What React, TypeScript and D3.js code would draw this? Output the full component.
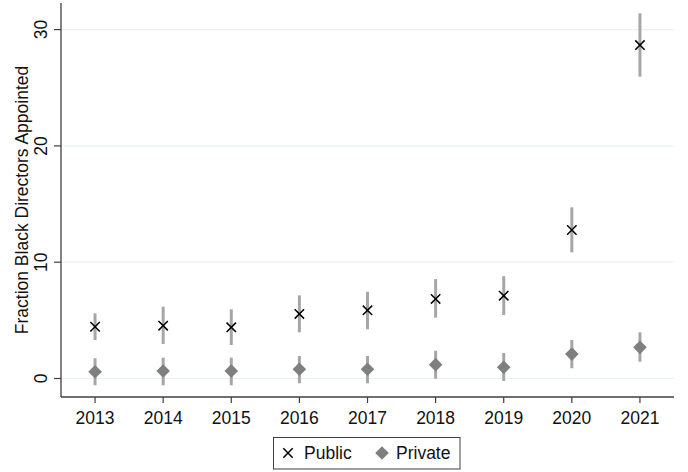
import React from "react";
import * as d3 from "d3";

// Survey years
const years = [2013, 2014, 2015, 2016, 2017, 2018, 2019, 2020, 2021];

// Public firms: point estimate and 95% CI bounds
const publicEst = [4.45, 4.54, 4.4, 5.55, 5.86, 6.84, 7.12, 12.77, 28.67];
const publicLo = [3.3, 2.97, 2.88, 3.97, 4.23, 5.23, 5.46, 10.85, 25.95];
const publicHi = [5.6, 6.17, 5.95, 7.15, 7.46, 8.55, 8.8, 14.72, 31.4];

// Private firms: point estimate and 95% CI bounds
const privateEst = [0.58, 0.64, 0.64, 0.79, 0.79, 1.19, 0.96, 2.1, 2.68];
const privateLo = [-0.58, -0.58, -0.58, -0.41, -0.41, -0.02, -0.21, 0.88, 1.44];
const privateHi = [1.74, 1.79, 1.79, 1.93, 1.93, 2.39, 2.19, 3.31, 3.97];

const yTicks = [0, 10, 20, 30];
const legendLabels = ["Public", "Private"];
const yTitle = "Fraction Black Directors Appointed";

const W = 688;
const H = 472;
const plot = { left: 61, right: 674, top: 3, bottom: 397 };

const FONT = "'Liberation Sans', Arial, sans-serif";
const FS = 17.5;
const AXIS = "#3f3f3f";
const GRID = "#eaf1f2";
const BAR = "#a6a6a6";
const DIAMOND = "#7f7f7f";

export default function App() {
  const x = d3.scaleLinear().domain([2012.5, 2021.5]).range([plot.left, plot.right]);
  const y = d3
    .scaleLinear()
    .domain([(378.5 - 397) / 11.63, (378.5 - 3) / 11.63])
    .range([plot.bottom, plot.top]);

  const cross = (cx: number, cy: number, r: number, key: string) => (
    <path
      key={key}
      d={`M${cx - r},${cy - r}L${cx + r},${cy + r}M${cx - r},${cy + r}L${cx + r},${cy - r}`}
      stroke="#000"
      strokeWidth={1.5}
      fill="none"
    />
  );
  const diamond = (cx: number, cy: number, r: number, key: string) => (
    <path
      key={key}
      d={`M${cx},${cy - r}L${cx + r},${cy}L${cx},${cy + r}L${cx - r},${cy}Z`}
      fill={DIAMOND}
    />
  );

  return (
    <svg
      width={W}
      height={H}
      style={{ position: "absolute", left: 0, top: 0, background: "#fff" }}
      fontFamily={FONT}
    >
      <rect width={W} height={H} fill="#fff" />

      {/* horizontal grid */}
      {yTicks.map((t) => (
        <line
          key={`g${t}`}
          x1={plot.left}
          x2={plot.right}
          y1={y(t)}
          y2={y(t)}
          stroke={GRID}
          strokeWidth={1.2}
        />
      ))}

      {/* confidence intervals */}
      {years.map((yr, i) => (
        <line
          key={`pc${yr}`}
          x1={x(yr)}
          x2={x(yr)}
          y1={y(publicLo[i])}
          y2={y(publicHi[i])}
          stroke={BAR}
          strokeWidth={3}
        />
      ))}
      {years.map((yr, i) => (
        <line
          key={`vc${yr}`}
          x1={x(yr)}
          x2={x(yr)}
          y1={y(privateLo[i])}
          y2={y(privateHi[i])}
          stroke={BAR}
          strokeWidth={3}
        />
      ))}

      {/* point estimates */}
      {years.map((yr, i) => cross(x(yr), y(publicEst[i]), 4.7, `pm${yr}`))}
      {years.map((yr, i) => diamond(x(yr), y(privateEst[i]), 6.8, `vm${yr}`))}

      {/* axes */}
      <line x1={plot.left} x2={plot.left} y1={plot.top} y2={plot.bottom} stroke={AXIS} strokeWidth={1.3} />
      <line x1={plot.left} x2={plot.right} y1={plot.bottom} y2={plot.bottom} stroke={AXIS} strokeWidth={1.3} />

      {yTicks.map((t) => (
        <g key={`yt${t}`}>
          <line x1={plot.left - 7} x2={plot.left} y1={y(t)} y2={y(t)} stroke={AXIS} strokeWidth={1.2} />
          <text
            transform={`translate(${plot.left - 14},${y(t)}) rotate(-90)`}
            textAnchor="middle"
            fontSize={FS}
            fill="#111"
          >
            {t}
          </text>
        </g>
      ))}

      {years.map((yr) => (
        <g key={`xt${yr}`}>
          <line x1={x(yr)} x2={x(yr)} y1={plot.bottom} y2={plot.bottom + 6} stroke={AXIS} strokeWidth={1.2} />
          <text x={x(yr)} y={plot.bottom + 27} textAnchor="middle" fontSize={FS} fill="#111">
            {yr}
          </text>
        </g>
      ))}

      <text
        transform={`translate(28,${(plot.top + plot.bottom) / 2}) rotate(-90)`}
        textAnchor="middle"
        fontSize={FS}
        fill="#111"
      >
        {yTitle}
      </text>

      {/* legend */}
      <rect x={273.5} y={437.5} width={186.5} height={31.5} fill="#fff" stroke={AXIS} strokeWidth={1} />
      {cross(288, 453, 4.7, "lg0")}
      <text x={304} y={459} fontSize={FS} fill="#111">
        {legendLabels[0]}
      </text>
      {diamond(382, 453, 6.8, "lg1")}
      <text x={396} y={459} fontSize={FS} fill="#111">
        {legendLabels[1]}
      </text>
    </svg>
  );
}
